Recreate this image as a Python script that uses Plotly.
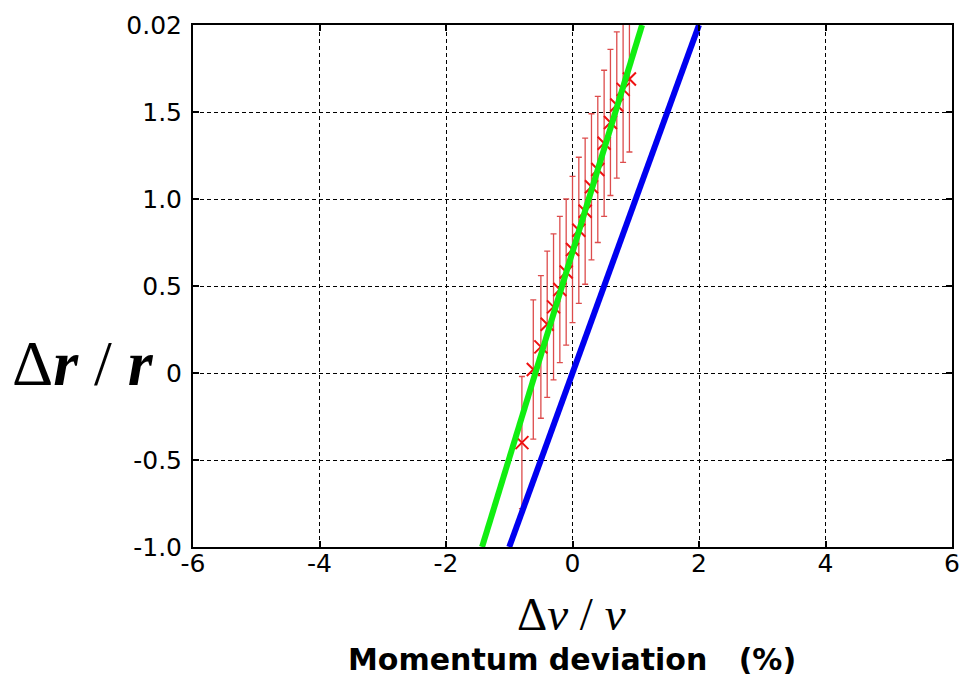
import plotly.graph_objects as go

# Measured data (momentum deviation %, Δr/r)
meas_x = [-0.8, -0.62, -0.5, -0.4, -0.3, -0.2, -0.1, 0.0, 0.1, 0.2, 0.3, 0.4, 0.5, 0.6, 0.7, 0.8, 0.9]
meas_y = [-0.40, 0.02, 0.15, 0.28, 0.38, 0.48, 0.58, 0.71, 0.82, 0.93, 1.07, 1.17, 1.32, 1.44, 1.54, 1.63, 1.69]
meas_err = [0.38, 0.40, 0.41, 0.42, 0.42, 0.42, 0.42, 0.42, 0.42, 0.42, 0.42, 0.42, 0.42, 0.42, 0.42, 0.42, 0.42]

# Fitted line (green) and theory line (blue)
fit_x = [-1.43, 1.10]
fit_y = [-1.0, 2.0]
theory_x = [-1.0, 2.0]
theory_y = [-1.0, 2.0]

xtick_vals = [-6, -4, -2, 0, 2, 4, 6]
xtick_text = ["-6", "-4", "-2", "0", "2", "4", "6"]
ytick_vals = [-1.0, -0.5, 0.0, 0.5, 1.0, 1.5, 2.0]
ytick_text = ["-1.0", "-0.5", "0", "0.5", "1.0", "1.5", "0.02"]

W, H = 962, 693
L, R, T, B = 193, 10, 25, 146
ph = H - T - B
pw = W - L - R

def py(pixel_y):
    return (H - B - pixel_y) / ph

def px(pixel_x):
    return (pixel_x - L) / pw

fig = go.Figure()
fig.add_trace(go.Scatter(
    x=meas_x, y=meas_y, mode="markers",
    marker=dict(symbol="x-thin", size=13, color="#ee1111",
                line=dict(color="#ee1111", width=2)),
    error_y=dict(type="data", array=meas_err, visible=True,
                 color="#dd4c4c", thickness=1.3, width=3),
    showlegend=False, cliponaxis=True))
fig.add_trace(go.Scatter(x=theory_x, y=theory_y, mode="lines",
                         line=dict(color="#0000f0", width=6), showlegend=False))
fig.add_trace(go.Scatter(x=fit_x, y=fit_y, mode="lines",
                         line=dict(color="#11ee11", width=6), showlegend=False))

axis_common = dict(showline=True, linecolor="black", linewidth=2, mirror="ticks",
                   ticks="inside", ticklen=6, tickcolor="black", tickwidth=1.5,
                   showgrid=True, gridcolor="black", gridwidth=1, griddash="4px,3px",
                   zeroline=False, automargin=False,
                   tickfont=dict(family="DejaVu Sans", size=25, color="black"))

fig.update_xaxes(range=[-6, 6], tickvals=xtick_vals, ticktext=xtick_text,
                 ticklabelstandoff=-7, **axis_common)
fig.update_yaxes(range=[-1, 2], tickvals=ytick_vals, ticktext=ytick_text,
                 ticklabelstandoff=4, **axis_common)

fig.add_annotation(text="Δ<b><i>r</i></b> / <b><i>r</i></b>", xref="paper", yref="paper",
                   x=px(83), y=py(363), xanchor="center", yanchor="middle",
                   showarrow=False, font=dict(family="Liberation Serif, Times New Roman", size=64, color="black"))
fig.add_annotation(text="Δ<i>v</i> / <i>v</i>", xref="paper", yref="paper",
                   x=px(571), y=py(614), xanchor="center", yanchor="middle",
                   showarrow=False, font=dict(family="Liberation Serif, Times New Roman", size=47, color="black"))
fig.add_annotation(text="<b>Momentum deviation\u00a0\u00a0\u00a0(%)</b>", xref="paper", yref="paper",
                   x=px(572), y=py(659), xanchor="center", yanchor="middle",
                   showarrow=False, font=dict(family="DejaVu Sans", size=30, color="black"))

fig.update_layout(width=W, height=H, margin=dict(l=L, r=R, t=T, b=B),
                  plot_bgcolor="white", paper_bgcolor="white")

fig.write_html("out.html", config={"displayModeBar": False},
               post_script="document.body.style.margin='0';")
